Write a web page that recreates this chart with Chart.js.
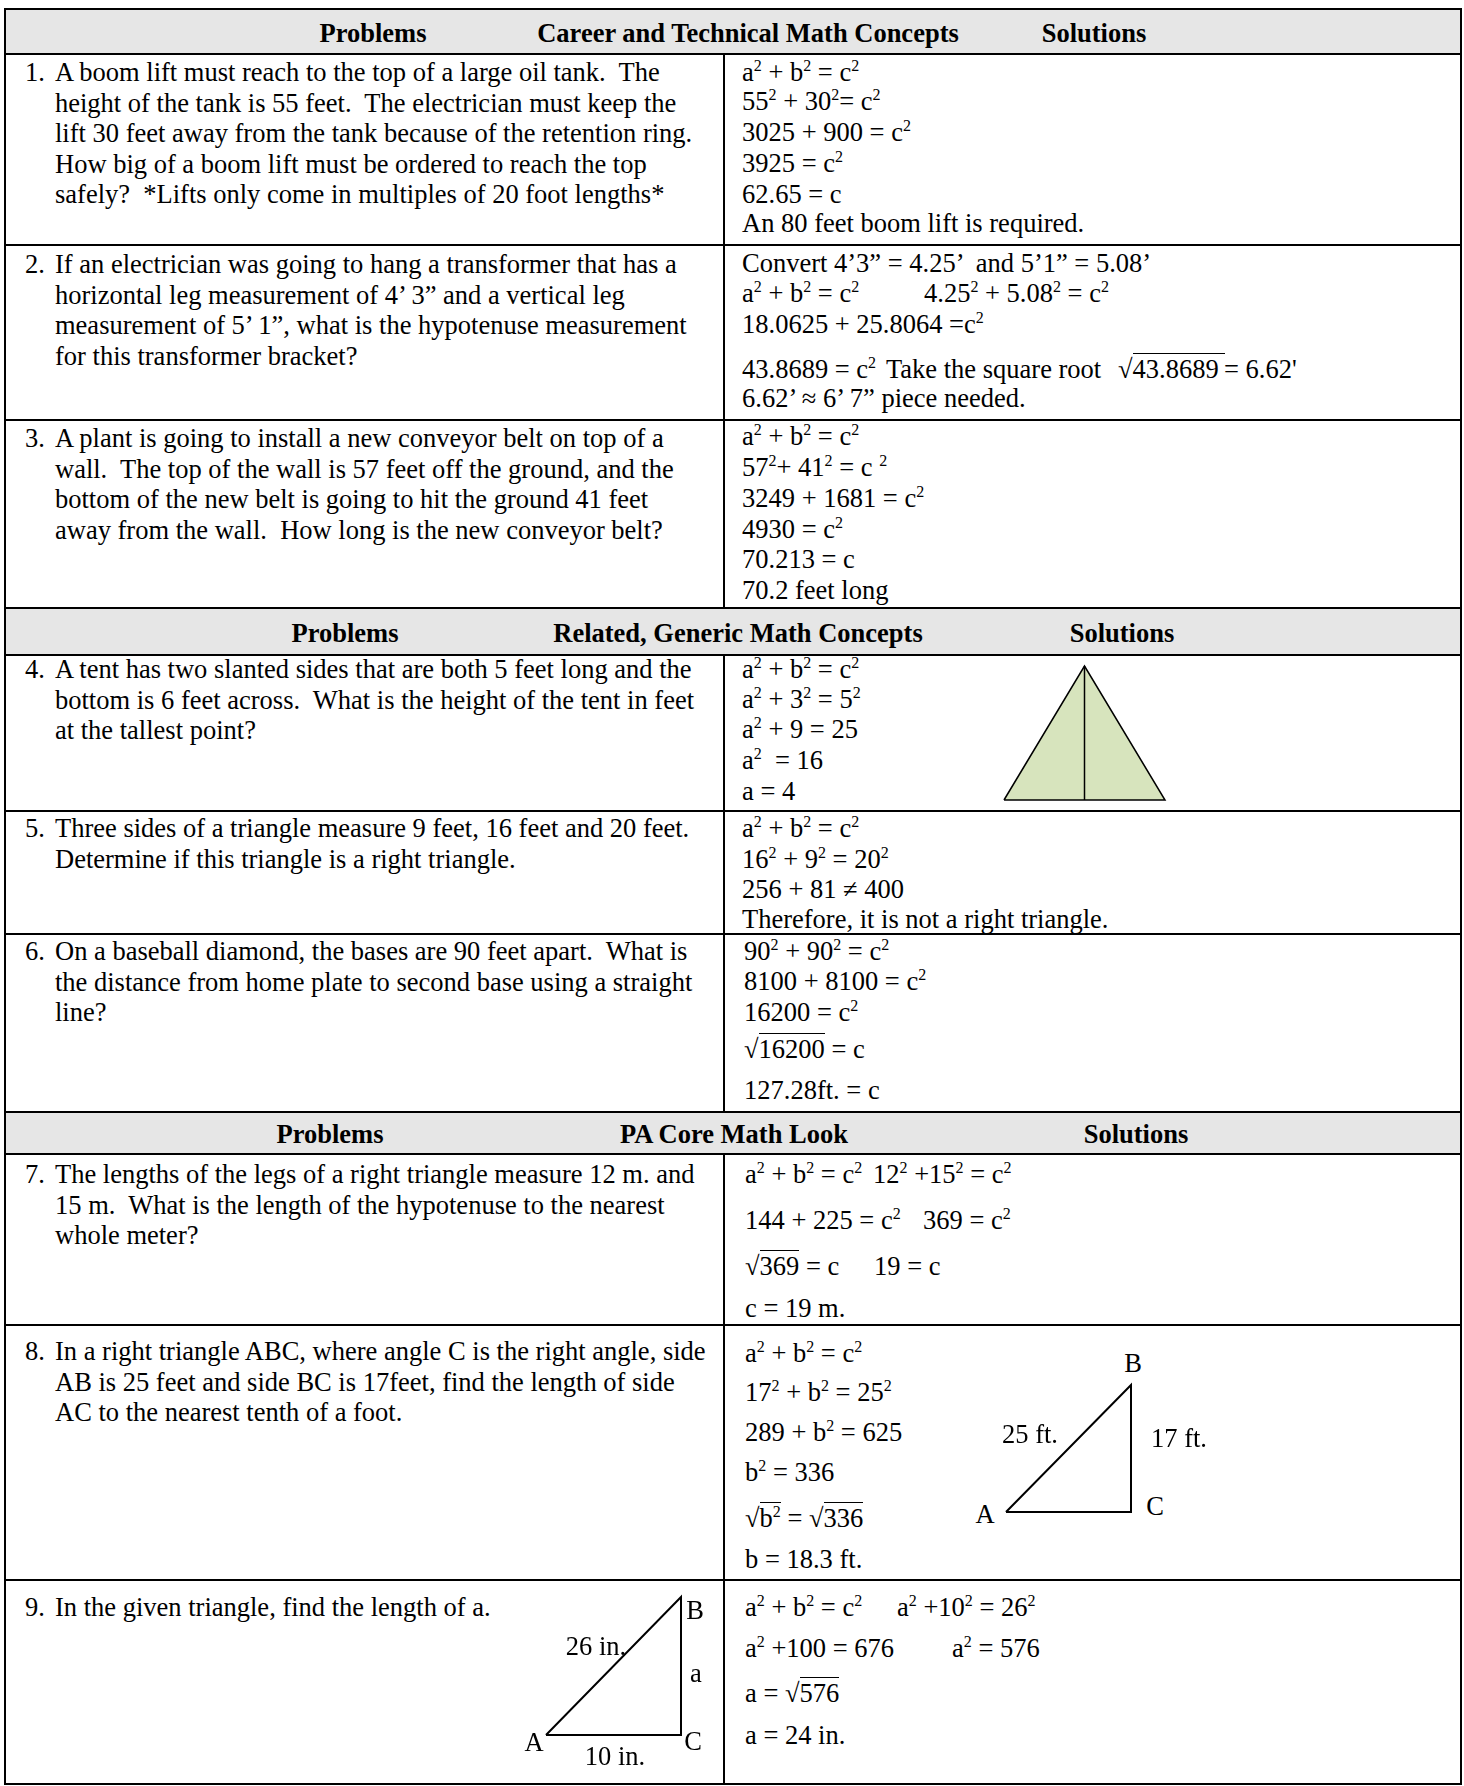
<!DOCTYPE html>
<html>
<head>
<meta charset="utf-8">
<script src="https://cdn.jsdelivr.net/npm/chart.js"></script>
<style>
html,body{margin:0;padding:0;background:#fff;}
#page{position:relative;width:1464px;height:1786px;overflow:hidden;font-family:"Liberation Serif","Times New Roman",serif;font-size:26.5px;color:#000;}
.hl{position:absolute;height:2px;background:#000;}
.vl{position:absolute;width:2px;background:#000;}
.band{position:absolute;background:#e6e6e6;}
.t{position:absolute;white-space:pre;line-height:30px;}
.hd{position:absolute;white-space:pre;line-height:30px;font-weight:bold;transform:translateX(-50%);}
sup{font-size:16px;position:relative;top:-10px;vertical-align:baseline;line-height:0;}
.rt{border-top:1.5px solid #000;}
.lab{position:absolute;white-space:pre;line-height:30px;transform:translate(-50%,-50%);}
.cv{position:absolute;}
</style>
</head>
<body>
<div id="page"></div>
<script>
// ---------- DATA ----------
const sectionTitles = ["Career and Technical Math Concepts", "Related, Generic Math Concepts", "PA Core Math Look"];
const columnTitles = ["Problems", "Solutions"];
const problemNumbers = ["1.", "2.", "3.", "4.", "5.", "6.", "7.", "8.", "9."];
const problemLines = [
  ["A boom lift must reach to the top of a large oil tank.  The",
   "height of the tank is 55 feet.  The electrician must keep the",
   "lift 30 feet away from the tank because of the retention ring.",
   "How big of a boom lift must be ordered to reach the top",
   "safely?  *Lifts only come in multiples of 20 foot lengths*"],
  ["If an electrician was going to hang a transformer that has a",
   "horizontal leg measurement of 4\u2019 3\u201d and a vertical leg",
   "measurement of 5\u2019 1\u201d, what is the hypotenuse measurement",
   "for this transformer bracket?"],
  ["A plant is going to install a new conveyor belt on top of a",
   "wall.  The top of the wall is 57 feet off the ground, and the",
   "bottom of the new belt is going to hit the ground 41 feet",
   "away from the wall.  How long is the new conveyor belt?"],
  ["A tent has two slanted sides that are both 5 feet long and the",
   "bottom is 6 feet across.  What is the height of the tent in feet",
   "at the tallest point?"],
  ["Three sides of a triangle measure 9 feet, 16 feet and 20 feet.",
   "Determine if this triangle is a right triangle."],
  ["On a baseball diamond, the bases are 90 feet apart.  What is",
   "the distance from home plate to second base using a straight",
   "line?"],
  ["The lengths of the legs of a right triangle measure 12 m. and",
   "15 m.  What is the length of the hypotenuse to the nearest",
   "whole meter?"],
  ["In a right triangle ABC, where angle C is the right angle, side",
   "AB is 25 feet and side BC is 17feet, find the length of side",
   "AC to the nearest tenth of a foot."],
  ["In the given triangle, find the length of a."]
];
// solution lines: each line is a list of text pieces ("^" = superscript, "r{..}" = square root)
const solutionLines = [
  [["a^2 + b^2 = c^2"], ["55^2 + 30^2= c^2"], ["3025 + 900 = c^2"], ["3925 = c^2"], ["62.65 = c"], ["An 80 feet boom lift is required."]],
  [["Convert 4\u20193\u201d = 4.25\u2019  and 5\u20191\u201d = 5.08\u2019"], ["a^2 + b^2 = c^2", "4.25^2 + 5.08^2 = c^2"], ["18.0625 + 25.8064 =c^2"],
   ["43.8689 = c^2", "Take the square root", "r{43.8689 }", "= 6.62'"], ["6.62\u2019 \u2248 6\u2019 7\u201d piece needed."]],
  [["a^2 + b^2 = c^2"], ["57^2+ 41^2 = c ^2"], ["3249 + 1681 = c^2"], ["4930 = c^2"], ["70.213 = c"], ["70.2 feet long"]],
  [["a^2 + b^2 = c^2"], ["a^2 + 3^2 = 5^2"], ["a^2 + 9 = 25"], ["a^2  = 16"], ["a = 4"]],
  [["a^2 + b^2 = c^2"], ["16^2 + 9^2 = 20^2"], ["256 + 81 \u2260 400"], ["Therefore, it is not a right triangle."]],
  [["90^2 + 90^2 = c^2"], ["8100 + 8100 = c^2"], ["16200 = c^2"], ["r{16200} = c"], ["127.28ft. = c"]],
  [["a^2 + b^2 = c^2", "12^2 +15^2 = c^2"], ["144 + 225 = c^2", "369 = c^2"], ["r{369} = c", "19 = c"], ["c = 19 m."]],
  [["a^2 + b^2 = c^2"], ["17^2 + b^2 = 25^2"], ["289 + b^2 = 625"], ["b^2 = 336"], ["r{b^2} = r{336}"], ["b = 18.3 ft."]],
  [["a^2 + b^2 = c^2", "a^2 +10^2 = 26^2"], ["a^2 +100 = 676", "a^2 = 576"], ["a = r{576}"], ["a = 24 in."]]
];
// triangle figures (vertex coordinates in the figure's own units)
const tentX = [0, 3, 6, 0];
const tentY = [0, 5, 0, 0];
const tentHeightX = [3, 3];
const tentHeightY = [0, 5];
const tri8X = [0, 18.3, 18.3, 0];
const tri8Y = [0, 0, 17, 0];
const tri8Labels = ["B", "25 ft.", "17 ft.", "A", "C"];
const tri9X = [0, 10, 10, 0];
const tri9Y = [0, 0, 24, 0];
const tri9Labels = ["B", "26 in.", "a", "A", "C", "10 in."];

// ---------- LAYOUT ----------
const page = document.getElementById('page');
const L = 5, R = 1461, MID = 724;
const headerBands = [[9, 54], [608, 655], [1112, 1154]];
const headerCenters = [[373, 748, 1094], [345, 738, 1122], [330, 734, 1136]];
const rowLines = [245, 420, 608, 811, 934, 1112, 1325, 1580, 1784];
const probFirst = [73, 265, 439, 670, 829, 952, 1175, 1352, 1608];
const probStep = 30.5;
const solY = [
  [73, 102, 133, 164, 195, 224],
  [264, 294, 325, 370, 399],
  [437, 468, 499, 530, 560, 591],
  [670, 700, 730, 761, 792],
  [829, 860, 890, 920],
  [952, 982, 1013, 1050, 1091],
  [1175, 1221, 1267, 1309],
  [1354, 1393, 1433, 1473, 1519, 1560],
  [1608, 1649, 1694, 1736]
];
const solX = [742, 742, 742, 742, 742, 744, 745, 745, 745];
const segX = {1: [742, 924], 6: [745, 873], 8: [745, 897]};
const segX2 = {
  1: [[742], [742, 924], [742], [742, 886, 1118, 1224], [742]],
  6: [[745, 873], [745, 923], [745, 874], [745]],
  8: [[745, 897], [745, 952], [745], [745]]
};

function el(cls, css, html) {
  const d = document.createElement('div');
  d.className = cls;
  Object.assign(d.style, css);
  if (html !== undefined) d.innerHTML = html;
  page.appendChild(d);
  return d;
}
function fmt(s) {
  s = s.replace(/r\{([^}]*)\}/g, (m, g) => '\u221A<span class="rt">' + g + '</span>');
  return s.replace(/\^(\d+)/g, '<sup>$1</sup>');
}

// header bands
headerBands.forEach(([a, b], i) => {
  el('band', {left: L + 'px', top: a + 'px', width: (R - L) + 'px', height: (b - a) + 'px'});
  const c = (a + b) / 2;
  const texts = [columnTitles[0], sectionTitles[i], columnTitles[1]];
  texts.forEach((tx, j) => el('hd', {left: headerCenters[i][j] + 'px', top: (c - 14) + 'px'}, tx));
});
// horizontal lines
[9, 54, 608, 655, 1112, 1154].concat(rowLines).forEach(y => el('hl', {left: L + 'px', top: (y - 1) + 'px', width: (R - L + 1) + 'px'}));
// vertical lines
el('vl', {left: (L - 1) + 'px', top: '8px', height: (1785 - 8) + 'px'});
el('vl', {left: (R - 1) + 'px', top: '8px', height: (1785 - 8) + 'px'});
[[54, 608], [655, 1112], [1154, 1784]].forEach(([a, b]) => el('vl', {left: (MID - 1) + 'px', top: a + 'px', height: (b - a) + 'px'}));

// problems
problemLines.forEach((lines, i) => {
  el('t', {left: '25px', top: (probFirst[i] - 16) + 'px'}, problemNumbers[i]);
  lines.forEach((ln, k) => el('t', {left: '55px', top: (probFirst[i] + k * probStep - 16) + 'px'}, ln));
});
// solutions
solutionLines.forEach((lines, i) => {
  lines.forEach((segs, k) => {
    const y = solY[i][k] - 16;
    if (segs.length === 1) {
      el('t', {left: solX[i] + 'px', top: y + 'px'}, fmt(segs[0]));
    } else {
      const xs = (segX2[i] && segX2[i][k]) || segX[i];
      segs.forEach((s, j) => el('t', {left: xs[j] + 'px', top: y + 'px'}, fmt(s)));
    }
  });
});

// ---------- FIGURES (Chart.js) ----------
function pts(xs, ys) { return xs.map((x, i) => ({x: x, y: ys[i]})); }
function figure(box, datasets, xr, yr) {
  const pad = 6;
  const c = document.createElement('canvas');
  c.className = 'cv';
  c.width = box.w + 2 * pad; c.height = box.h + 2 * pad;
  c.style.left = (box.x - pad) + 'px'; c.style.top = (box.y - pad) + 'px';
  c.style.width = c.width + 'px'; c.style.height = c.height + 'px';
  page.appendChild(c);
  new Chart(c.getContext('2d'), {
    type: 'scatter',
    data: {datasets: datasets},
    options: {
      responsive: false, animation: false, devicePixelRatio: 1,
      layout: {padding: pad},
      plugins: {legend: {display: false}, tooltip: {enabled: false}},
      events: [],
      scales: {
        x: {type: 'linear', display: false, min: xr[0], max: xr[1]},
        y: {type: 'linear', display: false, min: yr[0], max: yr[1]}
      }
    }
  });
}
const lineDs = (data, w, fill, bg, order) => ({data: data, showLine: true, borderColor: '#000', borderWidth: w,
  pointRadius: 0, tension: 0, fill: fill, backgroundColor: bg || 'rgba(0,0,0,0)', clip: false,
  borderJoinStyle: 'miter', order: order || 0});

figure({x: 1004, y: 666, w: 161, h: 134},
  [lineDs(pts(tentX, tentY), 1.5, 'shape', '#d7e4bd', 2), lineDs(pts(tentHeightX, tentHeightY), 1.5, false, null, 1)],
  [0, 6], [0, 5]);
figure({x: 1006, y: 1385, w: 125, h: 127},
  [lineDs(pts(tri8X, tri8Y), 2, false)], [0, 18.3], [0, 17]);
figure({x: 546, y: 1597, w: 135, h: 138},
  [lineDs(pts(tri9X, tri9Y), 2, false)], [0, 10], [0, 24]);

// figure labels
const tri8Pos = [[1133, 1363], [1030, 1434], [1179, 1438], [985, 1514], [1155, 1506]];
tri8Labels.forEach((t, i) => el('lab', {left: tri8Pos[i][0] + 'px', top: tri8Pos[i][1] + 'px'}, t));
const tri9Pos = [[695, 1610], [596, 1646], [696, 1673], [534, 1742], [693, 1741], [615, 1756]];
tri9Labels.forEach((t, i) => el('lab', {left: tri9Pos[i][0] + 'px', top: tri9Pos[i][1] + 'px'}, t));
</script>
</body>
</html>
